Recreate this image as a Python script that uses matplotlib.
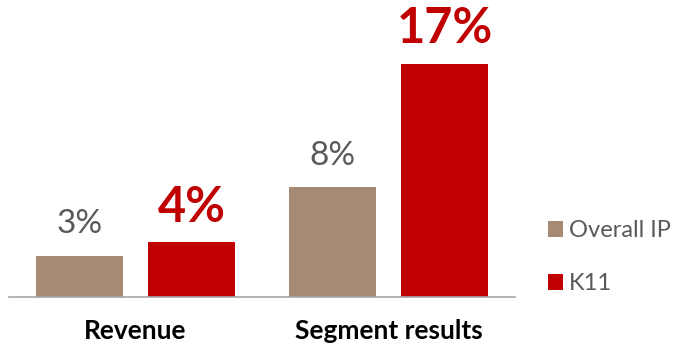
import matplotlib.pyplot as plt
import numpy as np

# --- data ---
categories = ["Revenue", "Segment results"]
series_names = ["Overall IP", "K11"]
overall_ip = [3, 8]
k11 = [4, 17]

tan = "#A68A73"
red = "#C00000"
grey = "#595959"

plt.rcParams['font.family'] = ['Lato', 'DejaVu Sans']

fig = plt.figure(figsize=(6.76, 3.45), dpi=100)
# axes: left 9px, right 515px, baseline at 297px from top
ax = fig.add_axes([9 / 676, (345 - 297) / 345, (515 - 9) / 676, 297 / 345])

x = np.arange(len(categories))
w = 0.344
off = 0.221

b1 = ax.bar(x - off, overall_ip, w, color=tan, label=series_names[0])
b2 = ax.bar(x + off, k11, w, color=red, label=series_names[1])

ax.set_xlim(-0.5, 1.5)
ax.set_ylim(0, 21.65)

# value labels
for xi, v in zip(x - off, overall_ip):
    ax.annotate(f"{v}%", (xi, v), xytext=(0, 12), textcoords="offset points",
                ha="center", va="bottom", fontsize=24, color=grey)
for xi, v in zip(x + off, k11):
    ax.annotate(f"{v}%", (xi, v), xytext=(0, 9), textcoords="offset points",
                ha="center", va="bottom", fontsize=35, color=red, fontweight="bold")

# axis styling
for s in ["top", "right", "left"]:
    ax.spines[s].set_visible(False)
ax.spines["bottom"].set_color("#A6A6A6")
ax.spines["bottom"].set_linewidth(1.2)
ax.set_yticks([])
ax.set_xticks(x)
ax.set_xticklabels(categories, fontsize=19, fontweight="bold", color="black")
ax.tick_params(axis="x", length=0, pad=16)

leg = fig.legend(handles=[b1, b2], loc="center left", bbox_to_anchor=(548 / 676, (345 - 257) / 345),
                 frameon=False, fontsize=17, handlelength=0.65, handleheight=0.65,
                 handletextpad=0.25, labelspacing=1.35, labelcolor=grey,
                 borderpad=0, borderaxespad=0)

fig.savefig("out.png", dpi=100)
